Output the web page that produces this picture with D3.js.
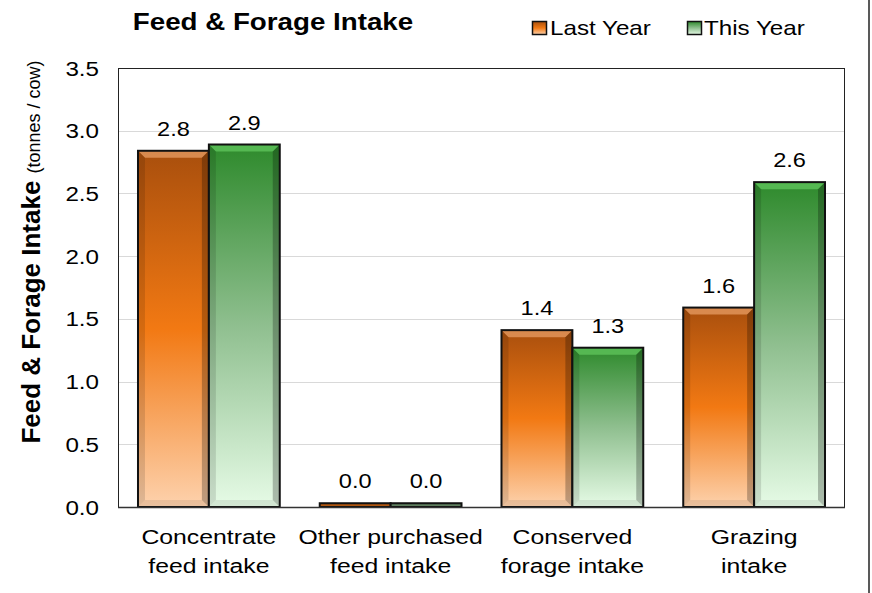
<!DOCTYPE html>
<html><head><meta charset="utf-8">
<script src="https://cdn.jsdelivr.net/npm/d3@7"></script>
<style>body{margin:0;background:#fff}svg{display:block}text{font-family:Arial,"Liberation Sans",sans-serif;fill:#000}</style>
</head><body>
<svg id="c" width="872" height="593"></svg>
<script>
const categories = [["Concentrate","feed intake"],["Other purchased","feed intake"],["Conserved","forage intake"],["Grazing","intake"]];
const seriesNames = ["Last Year","This Year"];
const lastYear = [2.84, 0.03, 1.41, 1.59];
const thisYear = [2.89, 0.03, 1.27, 2.59];
const labelsLast = ["2.8","0.0","1.4","1.6"];
const labelsThis = ["2.9","0.0","1.3","2.6"];
const yTicks = [0,0.5,1,1.5,2,2.5,3,3.5];

const SX = 1.18; // horizontal text stretch seen in the reference
const svg = d3.select("#c");
const m = {l:118, t:68, r:845, b:507};
const x = d3.scaleBand().domain(d3.range(categories.length)).range([m.l,m.r]).paddingInner(0.22).paddingOuter(0.11);
const xs = d3.scaleBand().domain([0,1]).range([0,x.bandwidth()]);
const y = d3.scaleLinear().domain([0,3.5]).range([m.b,m.t]);

function stext(px, py, size, anchor){
  return svg.append("text").attr("transform",`translate(${px},${py}) scale(${SX},1)`)
    .attr("font-size",size).attr("text-anchor",anchor||"start");
}

const defs = svg.append("defs");
function grad(id, stops){
  const g = defs.append("linearGradient").attr("id",id).attr("x1",0).attr("y1",0).attr("x2",0).attr("y2",1);
  stops.forEach(s=>g.append("stop").attr("offset",s[0]).attr("stop-color",s[1]));
}
grad("gO",[[0,"#a94f0d"],[0.5,"#f27913"],[1,"#fdd2ad"]]);
grad("gG",[[0,"#2e8a2c"],[0.5,"#8fbf8f"],[1,"#e6fbe6"]]);

// gridlines
svg.append("g").selectAll("line").data(yTicks.filter(v=>v>0&&v<3.5)).join("line")
  .attr("x1",m.l).attr("x2",m.r).attr("y1",d=>Math.round(y(d))+0.5).attr("y2",d=>Math.round(y(d))+0.5)
  .attr("stroke","#d9d9d9").attr("stroke-width",1);
// frame
svg.append("rect").attr("x",m.l+0.5).attr("y",m.t+0.5).attr("width",m.r-m.l-1).attr("height",m.b-m.t)
  .attr("fill","none").attr("stroke","#222").attr("stroke-width",1);

// y axis tick labels (positions from the scale)
yTicks.forEach(v=>{
  stext(m.l-19, y(v)+7.5, 20.5, "end").text(d3.format(".1f")(v));
});

// bars
const series = [lastYear, thisYear];
const fills = ["url(#gO)","url(#gG)"];
const labs = [labelsLast, labelsThis];
const bevelTop = ["#e0945a","#5cbf58"];
series.forEach((vals,si)=>{
  const g = svg.append("g");
  vals.forEach((v,i)=>{
    const bx = x(i)+xs(si), bw = xs.bandwidth(), by = y(v), bh = y(0)-y(v);
    const base = g.append("rect").attr("x",bx).attr("y",by).attr("width",bw).attr("height",bh).attr("fill",fills[si]);
    const bv = Math.min(7, bh/2);
    if (bh > 16) {
      g.append("path").attr("d",`M${bx},${by}L${bx+bw},${by}L${bx+bw-bv},${by+bv}L${bx+bv},${by+bv}Z`).attr("fill",bevelTop[si]).attr("opacity",0.85);
      g.append("path").attr("d",`M${bx+bw},${by}L${bx+bw},${by+bh}L${bx+bw-bv},${by+bh-bv}L${bx+bw-bv},${by+bv}Z`).attr("fill","#000").attr("opacity",0.25);
      g.append("path").attr("d",`M${bx},${by}L${bx},${by+bh}L${bx+bv},${by+bh-bv}L${bx+bv},${by+bv}Z`).attr("fill","#000").attr("opacity",0.12);
      g.append("path").attr("d",`M${bx},${by+bh}L${bx+bw},${by+bh}L${bx+bw-bv},${by+bh-bv}L${bx+bv},${by+bh-bv}Z`).attr("fill","#000").attr("opacity",0.08);
    } else {
      base.attr("fill", si ? "#5e7e5e" : "#b0560f");
    }
    g.append("rect").attr("x",bx).attr("y",by).attr("width",bw).attr("height",bh).attr("fill","none").attr("stroke","#111").attr("stroke-width",2);
    stext(bx+bw/2, by-15, 20, "middle").text(labs[si][i]);
  });
});
// axis baseline
svg.append("line").attr("x1",m.l).attr("x2",m.r).attr("y1",m.b+0.5).attr("y2",m.b+0.5).attr("stroke","#333").attr("stroke-width",1.5);

// x labels
categories.forEach((c,i)=>{
  const cx = x(i)+x.bandwidth()/2;
  c.forEach((line,k)=>stext(cx, 544 + k*29, 21, "middle").text(line));
});

// title
stext(273, 30, 23.5, "middle").attr("font-weight","bold").text("Feed & Forage Intake");

// legend
const lg = [[532,"gO",550],[687,"gG",704]];
seriesNames.forEach((n,i)=>{
  const lx = lg[i][0];
  svg.append("rect").attr("x",lx+0.5).attr("y",21.5).attr("width",14).attr("height",13).attr("fill",`url(#${lg[i][1]})`).attr("stroke","#111").attr("stroke-width",1.5);
  stext(lg[i][2], 35, 20.5).text(n);
});

// y title
const yt = svg.append("text").attr("transform","translate(40,252) rotate(-90)").attr("text-anchor","middle");
yt.append("tspan").attr("font-size",26).attr("font-weight","bold").text("Feed & Forage Intake ");
yt.append("tspan").attr("font-size",18).text("(tonnes / cow)");

// right border line
svg.append("line").attr("x1",869).attr("x2",869).attr("y1",0).attr("y2",593).attr("stroke","#222").attr("stroke-width",1.5);
</script>
</body></html>
